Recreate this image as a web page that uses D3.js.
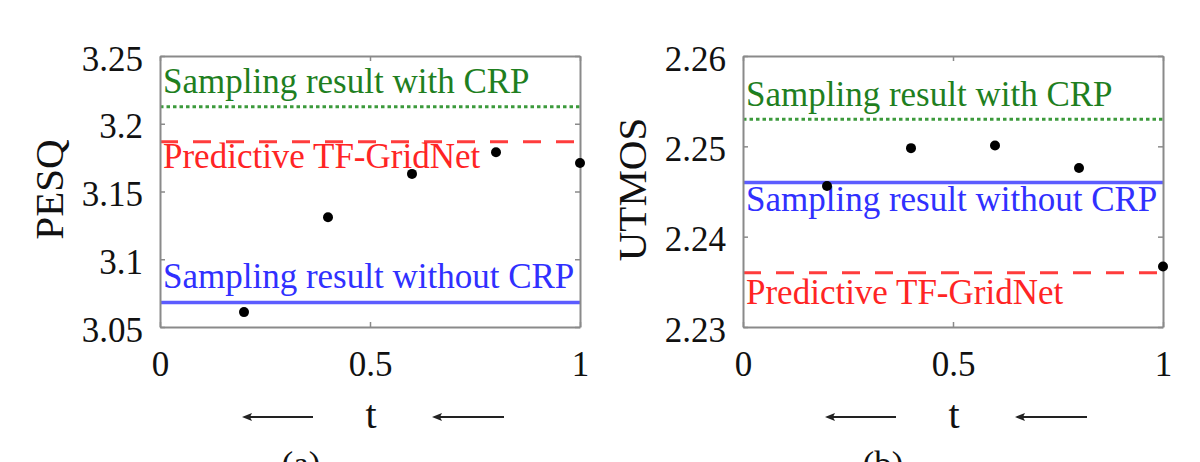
<!DOCTYPE html>
<html>
<head>
<meta charset="utf-8">
<script src="https://cdn.jsdelivr.net/npm/d3@7"></script>
<style>
  html, body { margin: 0; padding: 0; background: #fff; }
  svg { display: block; }
  text { font-family: "Liberation Serif", "Times New Roman", serif; }
</style>
</head>
<body>
<svg id="chart" width="1200" height="462"></svg>
<script>
// ---- data ----
const tValues = [0.2, 0.4, 0.6, 0.8, 1.0];
const pesqValues = [3.061, 3.131, 3.163, 3.179, 3.171];
const utmosValues = [2.2456, 2.2498, 2.2501, 2.2476, 2.2367];

const refNames = ["Sampling result with CRP", "Predictive TF-GridNet", "Sampling result without CRP"];
const pesqRefValues = [3.2126, 3.1868, 3.068];
const utmosRefValues = [2.2530, 2.2360, 2.2460];

const xTicks = [0, 0.5, 1];
const xTickLabels = ["0", "0.5", "1"];
const pesqTicks = [3.05, 3.1, 3.15, 3.2, 3.25];
const pesqTickLabels = ["3.05", "3.1", "3.15", "3.2", "3.25"];
const utmosTicks = [2.23, 2.24, 2.25, 2.26];
const utmosTickLabels = ["2.23", "2.24", "2.25", "2.26"];

const yLabels = ["PESQ", "UTMOS"];
const xLabel = "t";
const captions = ["(a)", "(b)"];

// ---- styles ----
const refStyles = [
  { line: "#3c9a3c", text: "#1f7f1f", dash: "3.5,3", width: 3 },
  { line: "#ff3c3c", text: "#ff2424", dash: "18,15", width: 3 },
  { line: "#5c5cff", text: "#3030ff", dash: null, width: 3.5 }
];

const panels = [
  { left: 160, right: 580, top: 56, bottom: 327,
    domain: [3.05, 3.25], ticks: pesqTicks, tickLabels: pesqTickLabels,
    values: pesqValues, refs: pesqRefValues, yLabel: yLabels[0], caption: captions[0],
    captionX: 301, labelOffsets: [-14, 26, -15] },
  { left: 743, right: 1163, top: 56, bottom: 327,
    domain: [2.23, 2.26], ticks: utmosTicks, tickLabels: utmosTickLabels,
    values: utmosValues, refs: utmosRefValues, yLabel: yLabels[1], caption: captions[1],
    captionX: 883, labelOffsets: [-13, 31, 29] }
];

const svg = d3.select("#chart");
const FS = 35;
const frameColor = "#8a8a8a";

panels.forEach(p => {
  const x = d3.scaleLinear().domain([0, 1]).range([p.left, p.right]);
  const y = d3.scaleLinear().domain(p.domain).range([p.bottom, p.top]);
  const g = svg.append("g");

  // reference lines
  p.refs.forEach((v, i) => {
    const s = refStyles[i];
    g.append("line")
      .attr("x1", x(0)).attr("x2", x(1))
      .attr("y1", y(v)).attr("y2", y(v))
      .attr("stroke", s.line).attr("stroke-width", s.width)
      .attr("stroke-dasharray", s.dash);
    g.append("text")
      .attr("x", x(0) + 3)
      .attr("y", y(v) + p.labelOffsets[i])
      .attr("fill", s.text)
      .attr("font-size", FS)
      .text(refNames[i]);
  });

  // axes (box style, inward ticks)
  const styleAxis = (sel, showLabels) => {
    sel.select(".domain").attr("stroke", frameColor).attr("stroke-width", 2);
    sel.selectAll(".tick line").attr("stroke", frameColor).attr("stroke-width", 1.5);
    sel.selectAll(".tick text")
      .attr("fill", "#111")
      .attr("font-size", FS)
      .attr("font-family", "Liberation Serif, Times New Roman, serif");
    if (!showLabels) sel.selectAll(".tick text").remove();
  };

  const axL = d3.axisLeft(y).tickValues(p.ticks)
    .tickFormat((d, i) => p.tickLabels[i]).tickSizeInner(-5).tickSizeOuter(0).tickPadding(17);
  const gL = g.append("g").attr("transform", `translate(${p.left},0)`).call(axL);
  styleAxis(gL, true);
  gL.selectAll(".tick text").attr("dy", "0.4em");

  const axR = d3.axisRight(y).tickValues(p.ticks).tickSizeInner(-5).tickSizeOuter(0);
  styleAxis(g.append("g").attr("transform", `translate(${p.right},0)`).call(axR), false);

  const axB = d3.axisBottom(x).tickValues(xTicks)
    .tickFormat((d, i) => xTickLabels[i]).tickSizeInner(-5).tickSizeOuter(0).tickPadding(24);
  styleAxis(g.append("g").attr("transform", `translate(0,${p.bottom})`).call(axB), true);

  const axT = d3.axisTop(x).tickValues(xTicks).tickSizeInner(-5).tickSizeOuter(0);
  styleAxis(g.append("g").attr("transform", `translate(0,${p.top})`).call(axT), false);

  // points
  g.selectAll("circle.pt").data(tValues).enter().append("circle")
    .attr("class", "pt")
    .attr("cx", d => x(d))
    .attr("cy", (d, i) => y(p.values[i]))
    .attr("r", 5)
    .attr("fill", "#000");

  // y label
  const cy = (p.top + p.bottom) / 2 - 2;
  g.append("text")
    .attr("transform", `translate(${p.left - 97},${cy}) rotate(-90)`)
    .attr("text-anchor", "middle")
    .attr("font-size", 41)
    .attr("fill", "#111")
    .text(p.yLabel);

  // x label with arrows
  const cx = (p.left + p.right) / 2;
  g.append("text")
    .attr("x", cx + 1).attr("y", 428)
    .attr("text-anchor", "middle")
    .attr("font-size", 40)
    .attr("fill", "#111")
    .text(xLabel);
  [[-128, -57], [62, 134]].forEach(([a, b]) => {
    const ax0 = cx + a, ax1 = cx + b, ay = 417;
    g.append("line")
      .attr("x1", ax0 + 6).attr("x2", ax1)
      .attr("y1", ay).attr("y2", ay)
      .attr("stroke", "#222").attr("stroke-width", 2);
    g.append("path")
      .attr("d", `M${ax0},${ay} L${ax0 + 10},${ay - 4} L${ax0 + 8},${ay} L${ax0 + 10},${ay + 4} Z`)
      .attr("fill", "#222");
  });

  // caption (mostly cut off at the bottom)
  g.append("text")
    .attr("x", p.captionX).attr("y", 476)
    .attr("text-anchor", "middle")
    .attr("font-size", FS)
    .attr("fill", "#111")
    .text(p.caption);
});
</script>
</body>
</html>
